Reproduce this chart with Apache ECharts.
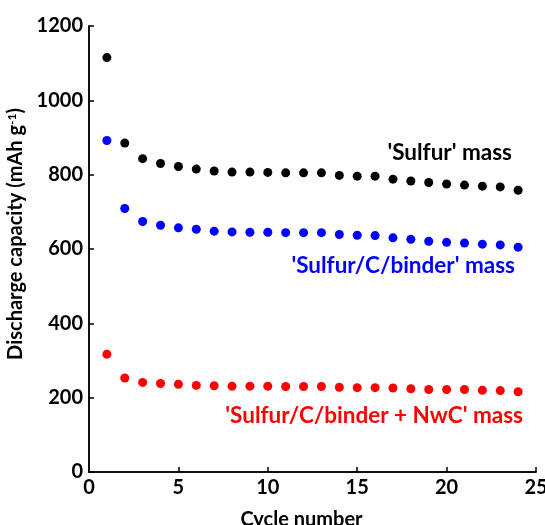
<!DOCTYPE html>
<html><head><meta charset="utf-8">
<script src="https://cdn.jsdelivr.net/npm/echarts@6/dist/echarts.min.js"></script>
<style>html,body{margin:0;padding:0;background:#fff}#c{width:545px;height:525px}</style>
</head><body><div id="c"></div>
<script>
const cycles = [1,2,3,4,5,6,7,8,9,10,11,12,13,14,15,16,17,18,19,20,21,22,23,24];
const sulfur = [1115,885,843,830,822,815,810,807,807,806,805,805,805,798,796,796,788,783,779,775,772,769,767,758];
const sulfurCBinder = [892,709,674,664,657,653,648,646,645,645,644,644,644,639,637,636,630,626,621,618,616,613,611,605];
const sulfurCBinderNwC = [317,253,241,238,236,233,232,231,231,231,230,230,230,228,227,227,226,224,222,222,222,220,219,216];
const xTicks = [0,5,10,15,20,25];
const yTicks = [0,200,400,600,800,1000,1200];

const FONT = 'Lato';
const chart = echarts.init(document.getElementById('c'), null, {renderer:'canvas'});
const pts = arr => cycles.map((c,i)=>[c,arr[i]]);
const axisCommon = {
  axisLine:{show:true,onZero:false,lineStyle:{color:'#000',width:1.5}},
  axisTick:{show:true,inside:true,length:5,lineStyle:{color:'#000',width:1.5}},
  splitLine:{show:false},
  axisLabel:{color:'#000',fontFamily:FONT,fontWeight:'bold',fontSize:20,formatter:v=>String(v)}
};
chart.setOption({
  animation:false,
  backgroundColor:'#fff',
  grid:{left:89,right:9,top:26,bottom:53,show:false,containLabel:false,outerBoundsMode:'none'},
  xAxis:[{type:'value',min:xTicks[0],max:xTicks[xTicks.length-1],interval:5,...axisCommon,
    axisLabel:{...axisCommon.axisLabel,margin:6},
    name:'Cycle number',nameLocation:'middle',nameGap:38,
    nameTextStyle:{color:'#000',fontFamily:FONT,fontWeight:'bold',fontSize:20,padding:[0,22,0,0]}},
    {type:'value',position:'top',min:0,max:25,axisLine:{show:true,lineStyle:{color:'#000',width:1.5}},axisTick:{show:false},axisLabel:{show:false},splitLine:{show:false}}],
  yAxis:[{type:'value',min:yTicks[0],max:yTicks[yTicks.length-1],interval:200,...axisCommon,
    axisLabel:{...axisCommon.axisLabel,margin:6},
    name:'{n|Discharge capacity (mAh g}{s|-1}{n|)}',nameLocation:'middle',nameGap:53,
    nameTextStyle:{color:'#000',fontFamily:FONT,fontWeight:'bold',fontSize:20,padding:[0,0,0,30],
      rich:{n:{fontFamily:FONT,fontWeight:'bold',fontSize:20,color:'#000'},s:{fontFamily:FONT,fontWeight:'bold',fontSize:12,color:'#000',verticalAlign:'top',padding:[0,0,8,0]}}}},
    {type:'value',position:'right',min:0,max:1200,axisLine:{show:true,lineStyle:{color:'#000',width:1.5}},axisTick:{show:false},axisLabel:{show:false},splitLine:{show:false}}],
  series:[
    {type:'scatter',data:pts(sulfur),symbolSize:9,itemStyle:{color:'#000',opacity:1}},
    {type:'scatter',data:pts(sulfurCBinder),symbolSize:9,itemStyle:{color:'#0000ff',opacity:1}},
    {type:'scatter',data:pts(sulfurCBinderNwC),symbolSize:9,itemStyle:{color:'#ff0000',opacity:1}}
  ],
  graphic:[
    {type:'text',right:33,top:141,style:{text:"'Sulfur' mass",fill:'#000',fontFamily:FONT,fontWeight:'bold',fontSize:22.5}},
    {type:'text',right:30,top:254,style:{text:"'Sulfur/C/binder' mass",fill:'#0000ff',fontFamily:FONT,fontWeight:'bold',fontSize:22.5}},
    {type:'text',right:22,top:404,style:{text:"'Sulfur/C/binder + NwC' mass",fill:'#ff0000',fontFamily:FONT,fontWeight:'bold',fontSize:22.5}}
  ]
});
</script></body></html>
